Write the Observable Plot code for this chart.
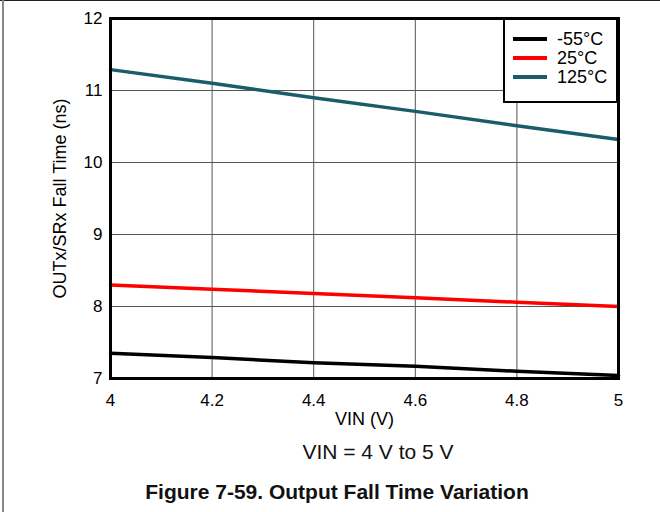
<!DOCTYPE html>
<html>
<head>
<meta charset="utf-8">
<script src="https://cdn.jsdelivr.net/npm/d3@7"></script>
<script src="https://cdn.jsdelivr.net/npm/@observablehq/plot@0.6"></script>
<style>
  html, body { margin: 0; padding: 0; background: #fff; }
  body { font-family: "Liberation Sans", Arial, sans-serif; }
  #wrap { position: relative; width: 660px; height: 512px; overflow: hidden; }
  #topline { position: absolute; left: 0; top: 0; width: 660px; height: 1px; background: #222; }
  #leftline { position: absolute; left: 2px; top: 0; width: 2px; height: 512px; background: #888; }
  #chart { position: absolute; left: 0; top: 0; }
  #chart svg text { font-size: 17px; font-weight: normal; }
  #chart svg g[aria-label="x-axis label"] text, #chart svg g[aria-label="y-axis label"] text { font-size: 18px; }
  #legend { position: absolute; left: 503px; top: 18px; width: 111px; height: 81px; border: 2px solid #000; background: #fff; }
  .row { position: absolute; left: 8px; height: 18px; line-height: 18px; display: flex; align-items: center; font-size: 18px; color: #000; }
  .sw { width: 34px; height: 4px; margin-right: 10px; }
  #sub { position: absolute; left: 378px; top: 440px; transform: translateX(-50%); font-size: 21px; line-height: 24px; white-space: nowrap; color: #111; }
  #cap { position: absolute; left: 337px; top: 480px; transform: translateX(-50%); font-size: 21px; font-weight: bold; line-height: 24px; white-space: nowrap; color: #111; }
</style>
</head>
<body>
<div id="wrap">
  <div id="chart"></div>
  <div id="topline"></div>
  <div id="leftline"></div>
  <div id="legend"></div>
  <div id="sub"></div>
  <div id="cap"></div>
</div>
<script>
const vin = [4, 4.2, 4.4, 4.6, 4.8, 5];
const fallM55 = [7.35, 7.29, 7.22, 7.17, 7.10, 7.04];
const fall25 = [8.30, 8.24, 8.18, 8.12, 8.06, 8.00];
const fall125 = [11.29, 11.10, 10.90, 10.71, 10.51, 10.32];
const seriesNames = ["-55°C", "25°C", "125°C"];
const seriesColors = ["#000000", "#ff0000", "#1b5c6b"];
const xTicks = [4, 4.2, 4.4, 4.6, 4.8, 5];
const yTicks = [7, 8, 9, 10, 11, 12];
const xLabel = "VIN (V)";
const yLabel = "OUTx/SRx Fall Time (ns)";
const subtitle = "VIN = 4 V to 5 V";
const caption = "Figure 7-59. Output Fall Time Variation";

const allSeries = [fallM55, fall25, fall125];
const rows = [];
allSeries.forEach((vals, si) => vals.forEach((v, i) => rows.push({series: seriesNames[si], vin: vin[i], t: v})));

const chart = Plot.plot({
  width: 660,
  height: 430,
  marginTop: 18,
  marginLeft: 110,
  marginRight: 42,
  marginBottom: 52,
  style: {fontFamily: "'Liberation Sans', Arial, sans-serif", fontSize: "17px", color: "#000", background: "transparent"},
  x: {domain: [4, 5]},
  y: {domain: [7, 12]},
  color: {domain: seriesNames, range: seriesColors},
  marks: [
    Plot.gridX(xTicks, {stroke: "#555", strokeOpacity: 1, strokeWidth: 1}),
    Plot.gridY(yTicks, {stroke: "#555", strokeOpacity: 1, strokeWidth: 1}),
    Plot.line(rows, {x: "vin", y: "t", z: "series", stroke: "series", strokeWidth: 3.5}),
    Plot.axisX(xTicks, {tickSize: 0, tickPadding: 15, tickFormat: d => String(d), label: xLabel, labelAnchor: "center", labelOffset: 46, labelArrow: "none"}),
    Plot.axisY(yTicks, {tickSize: 0, tickPadding: 8, tickFormat: d => String(d), label: yLabel, labelAnchor: "center", labelOffset: 57, labelArrow: "none"}),
    Plot.frame({stroke: "#000", strokeWidth: 3})
  ]
});
document.getElementById("chart").appendChild(chart);

const legend = document.getElementById("legend");
seriesNames.forEach((name, i) => {
  const r = document.createElement("div");
  r.className = "row";
  r.style.top = (10 + i * 19) + "px";
  const sw = document.createElement("div");
  sw.className = "sw";
  sw.style.background = seriesColors[i];
  const lab = document.createElement("span");
  lab.textContent = name;
  r.appendChild(sw);
  r.appendChild(lab);
  legend.appendChild(r);
});
document.getElementById("sub").textContent = subtitle;
document.getElementById("cap").textContent = caption;
</script>
</body>
</html>
